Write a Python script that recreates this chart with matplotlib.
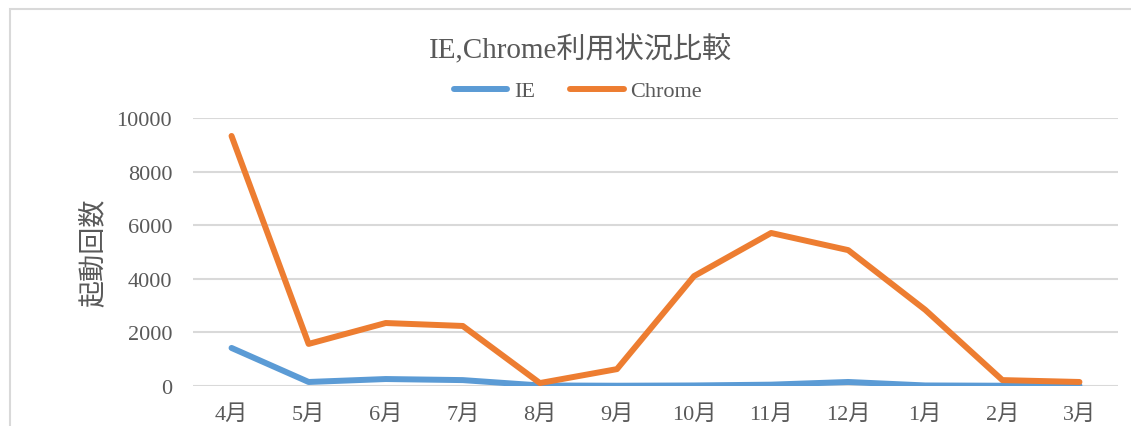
import matplotlib.pyplot as plt
from matplotlib.patches import Rectangle

months = ['4月', '5月', '6月', '7月', '8月', '9月', '10月', '11月', '12月', '1月', '2月', '3月']
ie = [1420, 150, 260, 220, 20, 10, 20, 50, 150, 20, 10, 10]
chrome = [9330, 1570, 2350, 2240, 110, 630, 4100, 5710, 5070, 2840, 220, 150]

plt.rcParams['font.family'] = ['Liberation Serif', 'Noto Sans CJK JP']
txt = '#595959'

fig = plt.figure(figsize=(11.31, 4.27), dpi=100)
fig.patches.append(Rectangle((10/1131, -0.1), 1.1, 1 - 10/427 + 0.1, transform=fig.transFigure,
                             fill=False, edgecolor='#d9d9d9', lw=1.5))
ax = fig.add_axes([193/1131, 1 - 387/427, 925/1131, 268/427])

x = range(len(months))
ax.plot(x, ie, color='#5b9bd5', lw=4.3, label='IE', solid_capstyle='round')
ax.plot(x, chrome, color='#ed7d31', lw=4.3, label='Chrome', solid_capstyle='round')

ax.set_xlim(-0.5, 11.5)
ax.set_ylim(0, 10000)
ax.set_yticks(range(0, 10001, 2000))
ax.set_xticks(list(x))
ax.set_xticklabels(months)
ax.grid(axis='y', color='#d9d9d9', lw=1.5)
ax.set_axisbelow(True)
for s in ax.spines.values():
    s.set_visible(False)
ax.tick_params(length=0, labelsize=16, colors=txt, pad=13)
ax.tick_params(axis='y', pad=15)
ax.set_ylabel('起動回数', fontsize=19.5, color=txt, labelpad=7)

fig.text(0.5135, 1 - 50/427, 'IE,Chrome利用状況比較', fontsize=21, color=txt, ha='center', va='center')
fig.legend(loc='center', bbox_to_anchor=(578/1131, 1 - 92/427), ncol=2, frameon=False,
           fontsize=16, labelcolor=txt, handlelength=2.4, columnspacing=1.6, handletextpad=0.3)

fig.savefig('out.png')
